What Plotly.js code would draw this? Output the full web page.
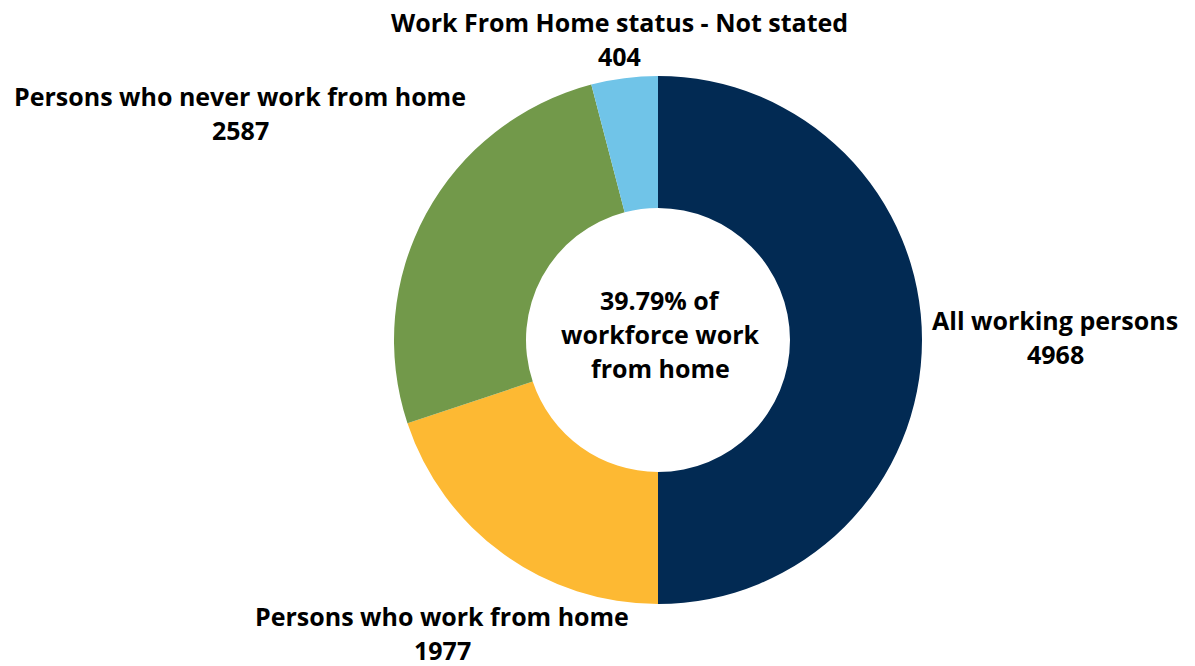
<!DOCTYPE html>
<html>
<head>
<meta charset="utf-8">
<script src="https://cdn.plot.ly/plotly-3.0.1.min.js"></script>
<style>html,body{margin:0;padding:0;background:#fff;}#chart{width:1195px;height:666px;}</style>
</head>
<body>
<div id="chart"></div>
<script>
const categories = ["All working persons", "Persons who work from home", "Persons who never work from home", "Work From Home status - Not stated"];
const values = [4968, 1977, 2587, 404];
const colors = ["#022A53", "#FDB933", "#72994A", "#70C4E8"];
const centerText = ["39.79% of", "workforce work", "from home"];

const W = 1195, H = 666;
const cx = 658, cy = 340, R = 264;
const font = {family: "Open Sans", size: 25, color: "#000"};

// label anchor positions (pixels), one per category: [x, y of first line]
const labelPos = [[1055, 320], [442, 616], [240, 96], [619, 22]];
const lineGap = 34;

const annotations = [];
function px(x, y, text) {
  annotations.push({xref: "paper", yref: "paper", x: x / W, y: 1 - y / H, text: "<b>" + text + "</b>",
    showarrow: false, xanchor: "center", yanchor: "middle", font: font, borderpad: 0});
}
categories.forEach((c, i) => {
  px(labelPos[i][0], labelPos[i][1], c);
  px(labelPos[i][0], labelPos[i][1] + lineGap, String(values[i]));
});
centerText.forEach((t, i) => px(660, 300 + i * lineGap, t));

const trace = {
  type: "pie",
  labels: categories,
  values: values,
  hole: 0.5,
  sort: false,
  direction: "clockwise",
  rotation: 0,
  marker: {colors: colors, line: {width: 0}},
  textinfo: "none",
  hoverinfo: "label+value",
  domain: {x: [(cx - R) / W, (cx + R) / W], y: [1 - (cy + R) / H, 1 - (cy - R) / H]}
};

Plotly.newPlot("chart", [trace], {
  width: W, height: H,
  margin: {l: 0, r: 0, t: 0, b: 0},
  showlegend: false,
  paper_bgcolor: "#fff",
  annotations: annotations
}, {displayModeBar: false, staticPlot: true});
</script>
</body>
</html>
